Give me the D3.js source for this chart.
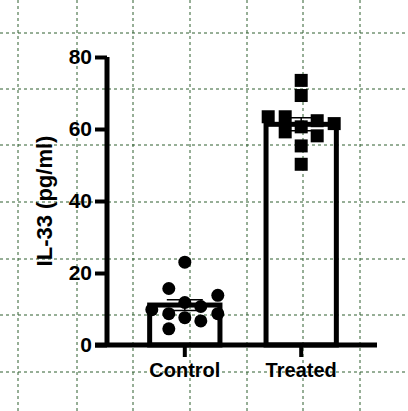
<!DOCTYPE html>
<html><head><script src="https://cdn.jsdelivr.net/npm/d3@7"></script>
<style>body{margin:0;background:#fff}</style></head><body>
<script>
const categories=["Control","Treated"];
const means=[11.1,61.3];
const sems=[1.5,1.8];
const controlValues=[23,15.7,9.8,8.7,11.8,7.6,4.5,10.7,6.7,13.8,8.7];
const treatedValues=[73.5,69.3,63.4,63.4,59.2,60.6,62.3,58.1,61.5,55.3,50.2];
const controlOffsets=[0,-16,-33,-16,0,0,-16,16,16,33,33];
const treatedOffsets=[0,0,-33,-16,-16,0,16,16,33,0,0];
const yTicks=[0,20,40,60,80];
const gridX=[18,77,133,190,247,303,360];
const gridY=[33,89,145,202,259,315,372];

const svg=d3.select("body").append("svg").attr("width",408).attr("height",411);
const g=svg.append("g");
gridX.forEach(x=>g.append("line").attr("x1",x).attr("x2",x).attr("y1",0).attr("y2",411));
gridY.forEach(y=>g.append("line").attr("y1",y).attr("y2",y).attr("x1",0).attr("x2",408));
g.selectAll("line").attr("stroke","#2e5e2e").attr("stroke-width",1).attr("stroke-dasharray","3,3");

const y=d3.scaleLinear().domain([0,80]).range([345,57]);
const x=d3.scaleBand().domain(categories).range([107,379]).paddingInner(0.353).paddingOuter(0.345);
const bw=x.bandwidth();
const cx=c=>x(c)+bw/2;

svg.selectAll(".bar").data(categories).join("rect")
 .attr("x",c=>x(c)+2.5).attr("width",bw-5)
 .attr("y",(c,i)=>y(means[i])).attr("height",(c,i)=>345-y(means[i]))
 .attr("fill","none").attr("stroke","#000").attr("stroke-width",5);

const ctr=svg.append("g");
controlValues.forEach((v,i)=>ctr.append("circle").attr("cx",cx("Control")+controlOffsets[i]).attr("cy",y(v)).attr("r",6.5).attr("fill","#000"));
treatedValues.forEach((v,i)=>ctr.append("rect").attr("x",cx("Treated")+treatedOffsets[i]-6.5).attr("y",y(v)-6.5).attr("width",13).attr("height",13).attr("fill","#000"));

categories.forEach((c,i)=>{
 const e=svg.append("g").attr("stroke","#000").attr("stroke-width",1.5);
 e.append("line").attr("x1",cx(c)).attr("x2",cx(c)).attr("y1",y(means[i]-sems[i])).attr("y2",y(means[i]+sems[i]));
 [means[i]-sems[i],means[i]+sems[i]].forEach(v=>e.append("line").attr("x1",cx(c)-18).attr("x2",cx(c)+18).attr("y1",y(v)).attr("y2",y(v)));
});

const ya=svg.append("g").attr("transform","translate(107,0)").call(d3.axisLeft(y).tickValues(yTicks).tickSize(12).tickPadding(3));
ya.select(".domain").attr("stroke-width",5).attr("d","M0,347V57");
ya.selectAll(".tick line").attr("stroke-width",4);
ya.selectAll("text").attr("font-family","Arial, Liberation Sans").attr("font-weight","bold").attr("font-size",21).attr("fill","#000");
const xa=svg.append("g").attr("transform","translate(0,345)").call(d3.axisBottom(x).tickSize(12).tickPadding(6));
xa.select(".domain").attr("stroke-width",5).attr("d","M95,0H377");
xa.selectAll(".tick line").attr("stroke-width",4);
xa.selectAll("text").attr("font-family","Arial, Liberation Sans").attr("font-weight","bold").attr("font-size",20).attr("fill","#000");

svg.append("text").attr("transform","translate(52,201) rotate(-90)").attr("text-anchor","middle")
 .attr("font-family","Arial, Liberation Sans").attr("font-weight","bold").attr("font-size",22).text("IL-33 (pg/ml)");
</script></body></html>
